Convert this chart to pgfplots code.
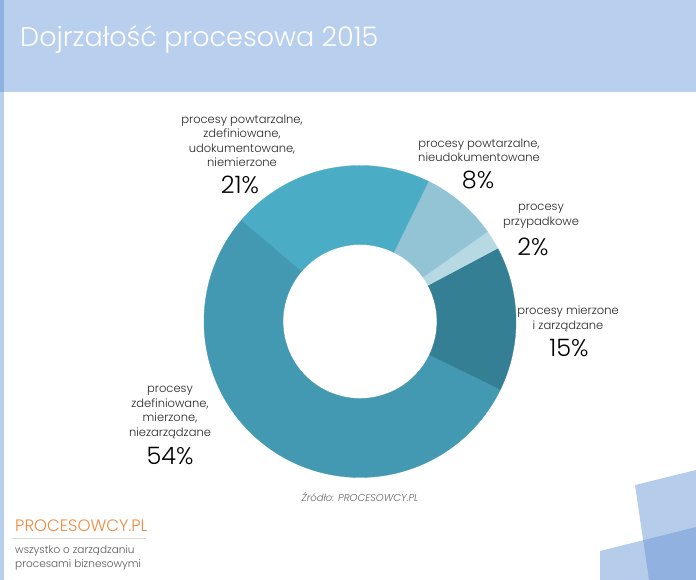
\documentclass[border=0pt]{standalone}
\usepackage{pgfplots}
\pgfplotsset{compat=1.18}
\usepackage{pgfplotstable}
\usepackage{fontspec}
\setmainfont{Poppins Light}

\definecolor{banner}{HTML}{B9CFEE}
\definecolor{bannerdark}{HTML}{8FB1E2}
\definecolor{deco}{HTML}{6E9AD8}
\definecolor{cA}{HTML}{357F94}
\definecolor{cB}{HTML}{B6D9E4}
\definecolor{cC}{HTML}{92C4D5}
\definecolor{cD}{HTML}{4BACC6}
\definecolor{cE}{HTML}{4299B1}
\definecolor{logo}{HTML}{EE8A3E}
\definecolor{txt}{HTML}{262626}

% udzialy w %, od lewego konca wycinka 15% przeciwnie do wskazowek zegara
\pgfplotstableread{
value col
15 cA
2  cB
8  cC
21 cD
54 cE
}\slices

\begin{document}
\begin{tikzpicture}
\begin{axis}[
  scale only axis, width=696pt, height=580pt,
  xmin=0, xmax=696, ymin=0, ymax=580,
  y dir=reverse, enlargelimits=false,
  hide axis, clip=false,
]
% tlo, banner, pasek z lewej
\fill[white] (axis cs:0,0) rectangle (axis cs:696,580);
\fill[banner] (axis cs:0,0) rectangle (axis cs:696,92);
\fill[banner] (axis cs:0,92) rectangle (axis cs:4,580);
\fill[bannerdark] (axis cs:0,0) rectangle (axis cs:4,92);

% ozdobne kwadraty w prawym dolnym rogu
\fill[deco, fill opacity=0.5] (axis cs:635,485) -- (axis cs:696,470) -- (axis cs:696,580) -- (axis cs:649,580) -- cycle;
\fill[deco, fill opacity=0.5] (axis cs:600,551) -- (axis cs:696,527) -- (axis cs:696,580) -- (axis cs:600,580) -- cycle;

% wycinki pierscienia
\def\cx{360}\def\cy{321.5}\def\ro{156}\def\ri{77}
\pgfmathsetmacro\startang{-26}
\pgfplotstablegetrowsof{\slices}
\pgfmathtruncatemacro\lastrow{\pgfplotsretval-1}
\pgfplotsforeachungrouped \i in {0,...,\lastrow}{
  \pgfplotstablegetelem{\i}{value}\of\slices \let\val\pgfplotsretval
  \pgfplotstablegetelem{\i}{col}\of\slices \let\col\pgfplotsretval
  \pgfmathsetmacro\endang{\startang+3.6*\val}
  \pgfmathsetmacro\xa{\cx+\ro*cos(\startang)}
  \pgfmathsetmacro\ya{\cy-\ro*sin(\startang)}
  \pgfmathsetmacro\xb{\cx+\ri*cos(\endang)}
  \pgfmathsetmacro\yb{\cy-\ri*sin(\endang)}
  \edef\temp{\noexpand\fill[\col, draw=\col, line width=0.3pt]
    (axis cs:\xa,\ya) arc[start angle=\startang, end angle=\endang, radius=\ro pt]
    -- (axis cs:\xb,\yb) arc[start angle=\endang, end angle=\startang, radius=\ri pt] -- cycle;}
  \temp
  \global\let\startang\endang
}

% tytul
\node[anchor=base west, text=white, font=\fontsize{27}{30}\selectfont, inner sep=0pt]
  at (axis cs:20,47) {Dojrzałość procesowa 2015};

% etykiety
\tikzset{lab/.style={align=center, text=txt, inner sep=0pt, font=\fontsize{11.5}{14.5}\selectfont},
         pct/.style={text=black, inner sep=0pt, font=\fontsize{24}{26}\selectfont}}
\node[lab] at (axis cs:242,141) {procesy powtarzalne,\\zdefiniowane,\\udokumentowane,\\niemierzone};
\node[pct] at (axis cs:240,185) {21\%};
\node[lab] at (axis cs:479,150.5) {procesy powtarzalne,\\nieudokumentowane};
\node[pct] at (axis cs:478,180) {8\%};
\node[lab] at (axis cs:541,216.5) {procesy\\przypadkowe};
\node[pct] at (axis cs:533,247) {2\%};
\node[lab] at (axis cs:568,319) {procesy mierzone\\i zarządzane};
\node[pct] at (axis cs:569,348) {15\%};
\node[lab] at (axis cs:170,412.5) {procesy\\zdefiniowane,\\mierzone,\\niezarządzane};
\node[pct] at (axis cs:170,456) {54\%};

% zrodlo
\node[text=black!60, inner sep=0pt, font=\fontsize{10}{11}\selectfont\itshape]
  at (axis cs:360,497) {Źródło: PROCESOWCY.PL};

% logo
\node[anchor=base west, text=logo, inner sep=0pt, font=\fontsize{16.5}{18}\selectfont]
  at (axis cs:15,531) {PROCESOWCY.PL};
\draw[black!15, line width=0.6pt] (axis cs:12,538) -- (axis cs:146,538);
\node[anchor=base west, text=black!65, inner sep=0pt, font=\fontsize{10.5}{14}\selectfont]
  at (axis cs:15,553) {wszystko o zarządzaniu};
\node[anchor=base west, text=black!65, inner sep=0pt, font=\fontsize{10.5}{14}\selectfont]
  at (axis cs:15,567) {procesami biznesowymi};
\end{axis}
\end{tikzpicture}
\end{document}
